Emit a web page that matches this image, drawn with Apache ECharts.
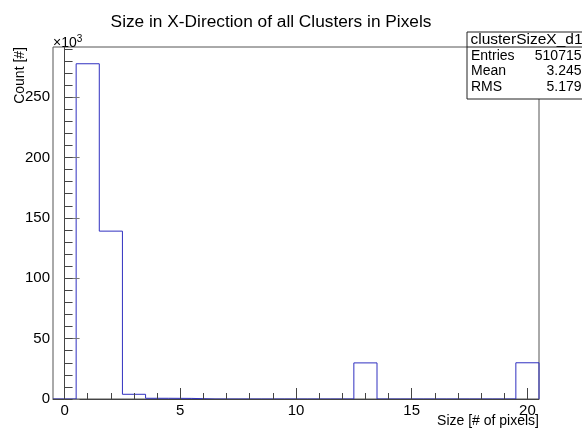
<!DOCTYPE html>
<html><head><meta charset="utf-8">
<script src="https://cdn.jsdelivr.net/npm/echarts@6/dist/echarts.min.js"></script>
<style>html,body{margin:0;padding:0;background:#fff}#c{width:582px;height:430px}</style>
</head><body><div id="c"></div>
<script>
// Histogram bins (bin centres, width 1), counts in units of 10^3
const binCenters = [0,1,2,3,4,5,6,7,8,9,10,11,12,13,14,15,16,17,18,19,20];
const counts = [0, 277.6, 139.0, 3.9, 0.6, 0.5, 0, 0, 0, 0, 0, 0, 0, 29.9, 0, 0, 0, 0, 0, 0, 30.0];
const xMajorTicks = [0, 5, 10, 15, 20];
const xMinorTicks = [0,1,2,3,4,5,6,7,8,9,10,11,12,13,14,15,16,17,18,19,20];
const yMajorTicks = [0, 50, 100, 150, 200, 250];
const yMinorTicks = [0,10,20,30,40,50,60,70,80,90,100,110,120,130,140,150,160,170,180,190,200,210,220,230,240,250,260,270,280,290];
const titleText = 'Size in X-Direction of all Clusters in Pixels';
const xTitle = 'Size [# of pixels]';
const yTitle = 'Count [#]';
const statsName = 'clusterSizeX_d1';
const statsLabels = ['Entries', 'Mean', 'RMS'];
const statsValues = ['510715', '3.245', '5.179'];

const FONT = '"Liberation Sans", Arial, Helvetica, sans-serif';
const LINE = '#3030c0';
const halfW = 0.5;
const xMin = binCenters[0] - halfW, xMax = binCenters[binCenters.length - 1] + halfW;
const yMax = Math.max(...counts) * 1.05;

// outline points (left edge of each bin, step 'end')
const pts = [[xMin, 0]];
binCenters.forEach((c, i) => pts.push([c - halfW, counts[i]]));
pts.push([xMax, counts[counts.length - 1]]);
pts.push([xMax, 0]);

const chart = echarts.init(document.getElementById('c'), null, {renderer: 'canvas'});
const axisCol = '#444';
const gL = 53, gR = 539, gT = 47, gB = 399;

const statsGraphic = [];
const bx = 467, by = 32, bw = 120, rowH = 15.6, headH = 15;
statsGraphic.push({type: 'rect', shape: {x: bx, y: by, width: bw, height: 67}, style: {fill: '#fff', stroke: '#222', lineWidth: 1}, z: 100});
statsGraphic.push({type: 'line', shape: {x1: bx, y1: by + headH, x2: bx + bw, y2: by + headH}, style: {stroke: '#222', lineWidth: 1}, z: 101});
statsGraphic.push({type: 'text', x: 526.5, y: 40, style: {text: statsName, font: '15.5px ' + FONT, fill: '#000', align: 'center', verticalAlign: 'middle'}, z: 102});
statsLabels.forEach((l, i) => {
  const yy = 56 + i * rowH;
  statsGraphic.push({type: 'text', x: 471, y: yy, style: {text: l, font: '14px ' + FONT, fill: '#000', align: 'left', verticalAlign: 'middle'}, z: 102});
  statsGraphic.push({type: 'text', x: 581.5, y: yy, style: {text: statsValues[i], font: '14px ' + FONT, fill: '#000', align: 'right', verticalAlign: 'middle'}, z: 102});
});

const option = {
  backgroundColor: '#fff',
  animation: false,
  title: {text: titleText, left: 266, top: 9, textAlign: 'center', textStyle: {fontFamily: FONT, fontSize: 17.3, fontWeight: 'normal', color: '#000'}},
  grid: {left: gL, right: 582 - gR, top: gT, bottom: 430 - gB, show: true, borderColor: '#555', borderWidth: 1, backgroundColor: 'transparent'},
  xAxis: [
    {type: 'value', min: xMin, max: xMax, z: 5,
      axisLine: {show: true, lineStyle: {color: axisCol, width: 1}},
      axisTick: {show: true, inside: true, length: 11, customValues: xMajorTicks, lineStyle: {color: axisCol}},
      axisLabel: {show: true, customValues: xMajorTicks, margin: 4, fontFamily: FONT, fontSize: 15, color: '#000'},
      splitLine: {show: false}},
    {type: 'value', min: xMin, max: xMax, position: 'bottom', z: 5,
      axisLine: {show: false},
      axisTick: {show: true, inside: true, length: 6, customValues: xMinorTicks, lineStyle: {color: axisCol}},
      axisLabel: {show: false},
      splitLine: {show: false}}
  ],
  yAxis: [
    {type: 'value', min: 0, max: yMax, z: 5,
      axisLine: {show: true, lineStyle: {color: axisCol, width: 1}},
      axisTick: {show: true, inside: true, length: 15, customValues: yMajorTicks, lineStyle: {color: '#777'}},
      axisLabel: {show: true, customValues: yMajorTicks, margin: 3, fontFamily: FONT, fontSize: 15, color: '#000'},
      splitLine: {show: false}},
    {type: 'value', min: 0, max: yMax, position: 'left', z: 5,
      axisLine: {show: false},
      axisTick: {show: true, inside: true, length: 8, customValues: yMinorTicks, lineStyle: {color: axisCol}},
      axisLabel: {show: false},
      splitLine: {show: false}}
  ],
  series: [{
    type: 'line', xAxisIndex: 0, yAxisIndex: 0, data: pts, step: 'end', showSymbol: false, symbol: 'none',
    lineStyle: {color: LINE, width: 1}, z: 2, clip: false
  }],
  graphic: [
    {type: 'text', x: gR, y: 421, style: {text: xTitle, font: '14px ' + FONT, fill: '#000', align: 'right', verticalAlign: 'middle'}},
    {type: 'text', x: 20, y: gT, rotation: Math.PI / 2, style: {text: yTitle, font: '14px ' + FONT, fill: '#000', align: 'right', verticalAlign: 'middle'}},
    {type: 'text', x: 53, y: 43, style: {text: '×10{s|3}', font: '14px ' + FONT, fill: '#000', align: 'left', verticalAlign: 'middle', rich: {s: {fontSize: 10, fontFamily: FONT, verticalAlign: 'top', padding: [0, 0, 8, 0]}}}}
  ].concat(statsGraphic)
};
chart.setOption(option);
</script></body></html>
